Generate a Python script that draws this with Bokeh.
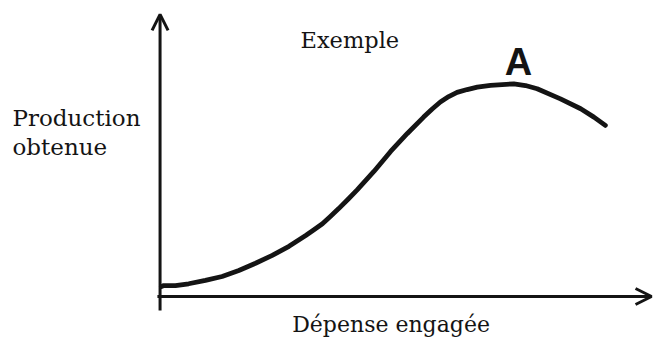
from bokeh.plotting import figure
from bokeh.models import Range1d, Arrow, OpenHead, Label
from bokeh.embed import file_html
from bokeh.resources import INLINE

# Data (expense vs production, arbitrary 0-100 units)
depense = [0.2, 0.75, 3.4, 6.4, 10.2, 14.0, 17.8, 21.6, 25.4, 29.2, 33.0,
           34.8, 36.8, 38.6, 40.5, 42.8, 44.7, 48.5, 52.3, 56.1, 59.8, 61.75,
           63.6, 65.5, 67.4, 69.7, 72.0, 75.0, 80.3, 82.95, 85.6, 90.9, 95.5,
           98.5, 101.1]
production = [3.8, 4.2, 4.2, 4.9, 6.2, 7.7, 10.0, 12.8, 15.8, 19.3, 23.5,
              25.6, 28.0, 30.8, 33.8, 37.7, 41.0, 48.1, 55.8, 62.7, 69.0, 72.1,
              74.8, 76.9, 78.5, 79.6, 80.5, 81.2, 81.8, 81.15, 79.9, 76.0, 72.2,
              69.0, 65.8]

title_text = "Exemple"
x_label = "Dépense  engagée"
y_label_lines = ["Production", "obtenue"]
curve_name = "A"

W, H = 653, 338
p = figure(width=W, height=H, output_backend="svg", toolbar_location=None,
           x_range=Range1d(-36.364, 112.045), y_range=Range1d(-16.154, 113.846),
           min_border=0)
p.axis.visible = False
p.grid.visible = False
p.outline_line_color = None
p.background_fill_color = "white"
p.border_fill_color = "white"

ink = "#141414"

# axes with open arrow heads
p.add_layout(Arrow(end=OpenHead(size=16, line_width=3, line_color=ink),
                   x_start=-0.1, y_start=-5.4, x_end=-0.1, y_end=108.5,
                   line_width=3, line_color=ink))
p.add_layout(Arrow(end=OpenHead(size=16, line_width=3, line_color=ink),
                   x_start=-0.7, y_start=0, x_end=111.6, y_end=0,
                   line_width=3, line_color=ink))

# curve
p.line(depense, production, line_width=4.8, line_color=ink,
       line_cap="round", line_join="round")

font = "DejaVu Serif"
fs = "23px"
p.add_layout(Label(x=12, y=220.3, x_units="screen", y_units="screen",
                   text=y_label_lines[0], text_font=font, text_font_size=fs,
                   text_color=ink, text_baseline="alphabetic"))
p.add_layout(Label(x=12, y=192, x_units="screen", y_units="screen",
                   text=y_label_lines[1], text_font=font, text_font_size=fs,
                   text_color=ink, text_baseline="alphabetic"))
p.add_layout(Label(x=300, y=299, x_units="screen", y_units="screen",
                   text=title_text, text_font=font, text_font_size="22.5px",
                   text_color=ink, text_baseline="alphabetic"))
p.add_layout(Label(x=291.7, y=14, x_units="screen", y_units="screen",
                   text=x_label, text_font=font, text_font_size="22px",
                   text_color=ink, text_baseline="alphabetic"))
p.add_layout(Label(x=518, y=277, x_units="screen", y_units="screen",
                   text=curve_name, text_font="Liberation Sans",
                   text_font_size="38px", text_font_style="bold",
                   text_color=ink, text_align="center",
                   text_baseline="alphabetic"))

open("out.html", "w").write(file_html(p, INLINE))
